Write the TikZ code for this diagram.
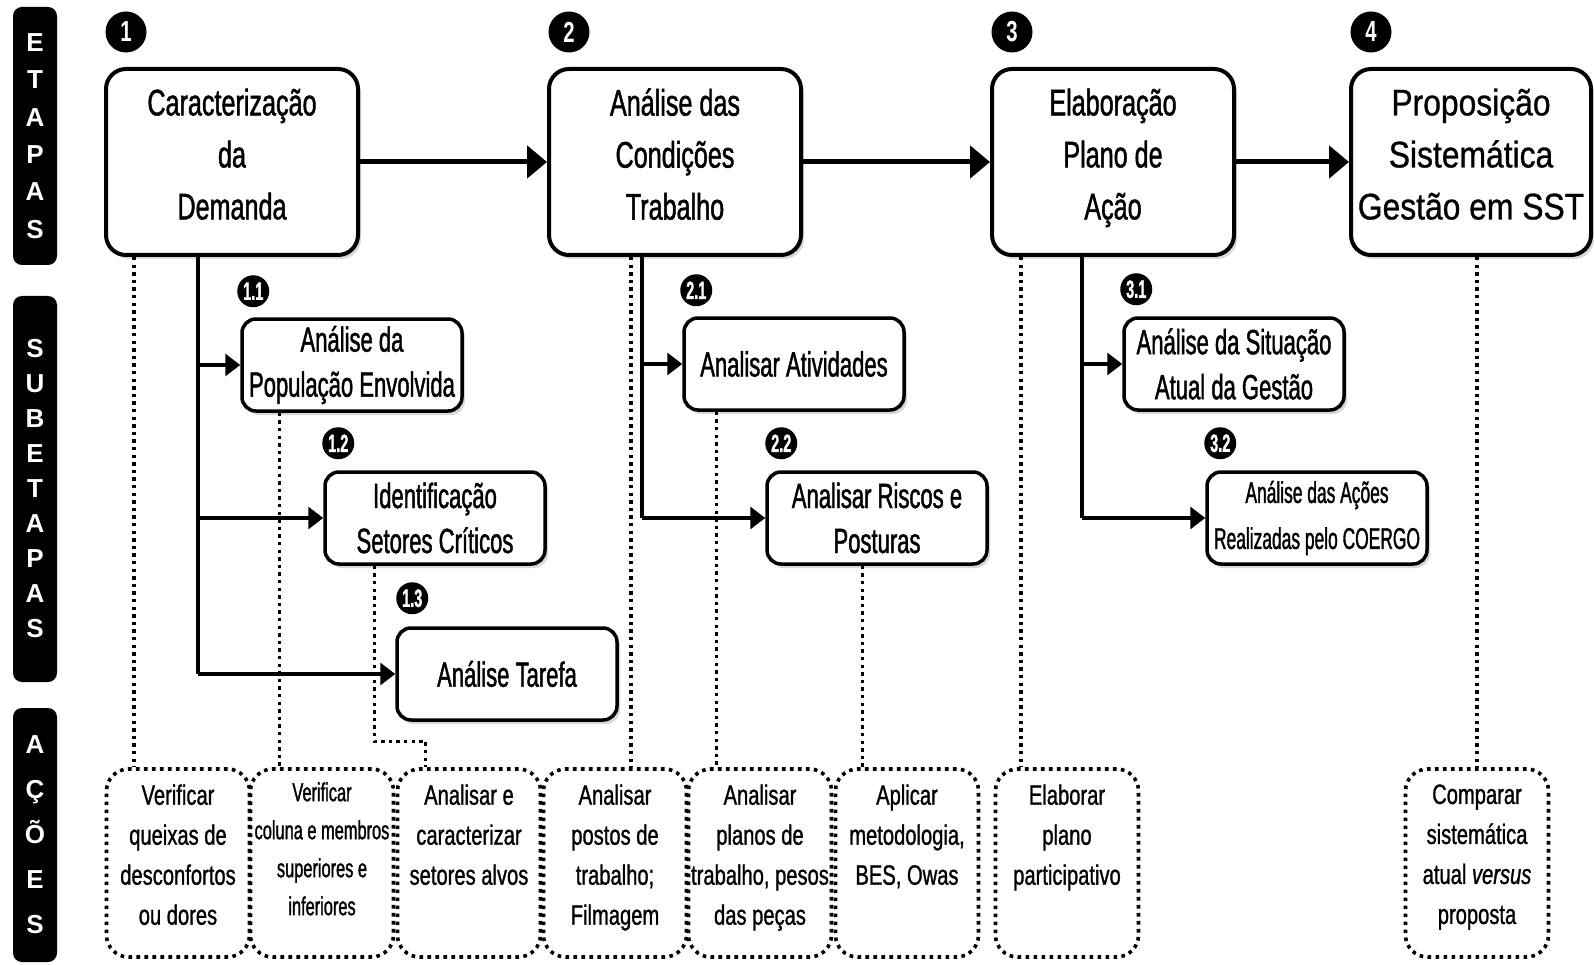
\documentclass[tikz,border=0pt]{standalone}
\usepackage{fontspec}
\setmainfont{Liberation Sans}
\newfontfamily\stagefont{Liberation Sans}[FakeStretch=0.68,FakeBold=1.2]
\newfontfamily\lastfont{Liberation Sans}[FakeStretch=0.86,FakeBold=0.8]
\newfontfamily\subfont{Liberation Sans}[FakeStretch=0.63,FakeBold=1.2]
\newfontfamily\actfont{Liberation Sans}[FakeStretch=0.72,FakeBold=1.0]
\newfontfamily\tightfont{Liberation Sans}[FakeStretch=0.58,FakeBold=1.2]
\newfontfamily\colfont{Liberation Sans}[FakeStretch=0.63,FakeBold=1.2]
\newfontfamily\badgefont{Liberation Sans}[FakeStretch=0.7]
\usetikzlibrary{arrows.meta,shadows}

\tikzset{
	stage/.style={draw,line width=4pt,rounded corners=20pt,fill=white,align=center,
		minimum width=252pt,minimum height=186pt,inner sep=2pt,
		font=\stagefont\fontsize{37}{52}\selectfont,
		drop shadow={shadow xshift=3pt,shadow yshift=-4pt,opacity=0.3}},
	substage/.style={draw,line width=3.5pt,rounded corners=14pt,fill=white,align=center,
		minimum width=220pt,minimum height=92pt,inner sep=2pt,
		font=\subfont\fontsize{35}{45}\selectfont,
		drop shadow={shadow xshift=3pt,shadow yshift=-4pt,opacity=0.3}},
	action/.style={draw,line width=3.6pt,dash pattern=on 3.6pt off 4.4pt,rounded corners=22pt,
		minimum width=143pt,minimum height=188pt},
	acttext/.style={anchor=north,align=center,inner sep=1pt,
		font=\actfont\fontsize{28}{40}\selectfont},
	badge/.style={circle,fill=black,text=white,inner sep=0pt,minimum size=41pt,
		font=\badgefont\bfseries\fontsize{29}{29}\selectfont},
	subbadge/.style={circle,fill=black,text=white,inner sep=0pt,minimum size=32pt,
		font=\tightfont\bfseries\fontsize{25}{25}\selectfont},
	sidebar/.style={fill=black,text=white,rounded corners=9pt,minimum width=44pt,
		inner sep=0pt,align=center},
	flow/.style={line width=5pt,-{Triangle[length=20pt,width=32pt]}},
	branch/.style={line width=3.2pt,-{Triangle[length=15pt,width=22pt]}},
	trunk/.style={line width=3.2pt},
	dotline/.style={line width=3.4pt,dash pattern=on 3.4pt off 4.2pt}
}

\begin{document}
\begin{tikzpicture}[x=1pt,y=-1pt]
	\fill[white] (0,0) rectangle (1594,965);
	\useasboundingbox (0,0) rectangle (1594,965);

	\node[sidebar,minimum height=258pt,font=\bfseries\fontsize{26}{37.4}\selectfont] (etapas) at (35,136) {E\\T\\A\\P\\A\\S};
	\node[sidebar,minimum height=386pt,font=\bfseries\fontsize{26}{35}\selectfont] (subetapas) at (35,489) {S\\U\\B\\E\\T\\A\\P\\A\\S};
	\node[sidebar,minimum height=254pt,font=\bfseries\fontsize{26}{45}\selectfont] (acoes) at (35,835) {A\\Ç\\Õ\\E\\S};

	\node[stage] (m1) at (232,162) {Caracterização\\da\\Demanda\\[-36pt]\mbox{}};
	\node[stage] (m2) at (675,162) {Análise das\\Condições\\Trabalho\\[-36pt]\mbox{}};
	\node[stage,minimum width=242pt] (m3) at (1113,162) {Elaboração\\Plano de\\Ação\\[-36pt]\mbox{}};
	\node[stage,minimum width=240pt,font=\lastfont\fontsize{37}{52}\selectfont] (m4) at (1471,162) {Proposição\\Sistemática\\Gestão em SST\\[-36pt]\mbox{}};

	\node[badge] (b1) at ([xshift=22pt,yshift=35pt]m1.north west) {1};
	\node[badge] (b2) at ([xshift=22pt,yshift=35pt]m2.north west) {2};
	\node[badge] (b3) at ([xshift=22pt,yshift=35pt]m3.north west) {3};
	\node[badge] (b4) at ([xshift=22pt,yshift=35pt]m4.north west) {4};

	\node[substage] (s11) at (352,365) {Análise da\\População Envolvida};
	\node[substage] (s12) at (435,518) {Identificação\\Setores Críticos};
	\node[substage] (s13) at (507,674) {Análise Tarefa};
	\node[substage] (s21) at (794,364) {Analisar Atividades};
	\node[substage] (s22) at (877,518) {Analisar Riscos e\\Posturas};
	\node[substage] (s31) at (1234,364) {Análise da Situação\\Atual da Gestão};
	\node[substage,font=\tightfont\fontsize{30}{46}\selectfont] (s32) at (1317,518) {Análise das Ações\\Realizadas pelo COERGO};

	\node[subbadge] (b11) at ([xshift=13pt,yshift=26pt]s11.north west) {1.1};
	\node[subbadge] (b12) at ([xshift=15pt,yshift=27pt]s12.north west) {1.2};
	\node[subbadge] (b13) at ([xshift=17pt,yshift=28pt]s13.north west) {1.3};
	\node[subbadge] (b21) at ([xshift=14pt,yshift=26pt]s21.north west) {2.1};
	\node[subbadge] (b22) at ([xshift=16pt,yshift=27pt]s22.north west) {2.2};
	\node[subbadge] (b31) at ([xshift=14pt,yshift=27pt]s31.north west) {3.1};
	\node[subbadge] (b32) at ([xshift=15pt,yshift=27pt]s32.north west) {3.2};

	\node[action] (a1) at (178,863) {};
	\node[action] (a2) at (322,863) {};
	\node[action] (a3) at (469,863) {};
	\node[action] (a4) at (615,863) {};
	\node[action] (a5) at (760,863) {};
	\node[action] (a6) at (907,863) {};
	\node[action] (a7) at (1067,863) {};
	\node[action] (a8) at (1477,863) {};

	\node[acttext] (a1t) at ([yshift=-16pt]a1.north) {Verificar\\queixas de\\desconfortos\\ou dores};
	\node[acttext,font=\colfont\fontsize{26}{38}\selectfont] (a2t) at ([yshift=-14pt]a2.north) {Verificar\\coluna e membros\\superiores e\\inferiores};
	\node[acttext] (a3t) at ([yshift=-16pt]a3.north) {Analisar e\\caracterizar\\setores alvos};
	\node[acttext] (a4t) at ([yshift=-16pt]a4.north) {Analisar\\postos de\\trabalho;\\Filmagem};
	\node[acttext] (a5t) at ([yshift=-16pt]a5.north) {Analisar\\planos de\\trabalho, pesos\\das peças};
	\node[acttext] (a6t) at ([yshift=-16pt]a6.north) {Aplicar\\metodologia,\\BES, Owas};
	\node[acttext] (a7t) at ([yshift=-16pt]a7.north) {Elaborar\\plano\\participativo};
	\node[acttext] (a8t) at ([yshift=-16pt]a8.north) {Comparar\\sistemática\\atual \textit{versus}\\proposta};

	\draw[flow] (m1) -- (m2);
	\draw[flow] (m2) -- (m3);
	\draw[flow] (m3) -- (m4);

	\coordinate (t1) at ([xshift=94pt]m1.south west);
	\coordinate (t2) at ([xshift=95pt]m2.south west);
	\coordinate (t3) at ([xshift=92pt]m3.south west);
	\draw[trunk] (t1) -- (t1 |- s13.west);
	\draw[branch] (t1 |- s11.west) -- (s11);
	\draw[branch] (t1 |- s12.west) -- (s12);
	\draw[branch] (t1 |- s13.west) -- (s13);
	\draw[trunk] (t2) -- (t2 |- s22.west);
	\draw[branch] (t2 |- s21.west) -- (s21);
	\draw[branch] (t2 |- s22.west) -- (s22);
	\draw[trunk] (t3) -- (t3 |- s32.west);
	\draw[branch] (t3 |- s31.west) -- (s31);
	\draw[branch] (t3 |- s32.west) -- (s32);

	\coordinate (d1) at ([xshift=30pt]m1.south west);
	\coordinate (d11) at ([xshift=39pt]s11.south west);
	\coordinate (d12) at ([xshift=51pt]s12.south west);
	\coordinate (bend) at ([xshift=30pt,yshift=26pt]a3.north west);
	\coordinate (d2) at ([xshift=84pt]m2.south west);
	\coordinate (d21) at ([xshift=34pt]s21.south west);
	\coordinate (d22) at ([xshift=97pt]s22.south west);
	\coordinate (d3) at ([xshift=31pt]m3.south west);
	\draw[dotline] (d1) -- (d1 |- a1.north);
	\draw[dotline] (d11) -- (d11 |- a2.north);
	\draw[dotline] (d12) |- (bend) -- (bend |- a3.north);
	\draw[dotline] (d2) -- (d2 |- a4.north);
	\draw[dotline] (d21) -- (d21 |- a5.north);
	\draw[dotline] (d22) -- (d22 |- a6.north);
	\draw[dotline] (d3) -- (d3 |- a7.north);
	\draw[dotline] (m4.south -| a8.north) -- (a8.north);
\end{tikzpicture}
\end{document}
